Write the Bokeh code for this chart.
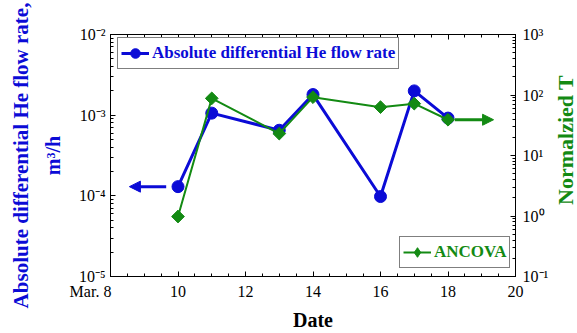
import numpy as np
from bokeh.plotting import figure
from bokeh.layouts import row
from bokeh.models import (LogAxis, LinearAxis, Range1d, LogScale, FixedTicker, LogTicker,
                          CustomJSTickFormatter, Legend, LegendItem, Arrow, NormalHead, Label)
from bokeh.embed import file_html
from bokeh.resources import INLINE

# ---- data ----
dates = [10, 11, 13, 14, 16, 17, 18]
he_flow = [1.3e-4, 1.06e-3, 6.5e-4, 1.8e-3, 9.8e-5, 2.0e-3, 9.2e-4]
ancova_dates = [10, 11, 13, 14, 16, 17, 18]
ancova_t = [0.98, 88, 23, 92, 63, 72, 39]
x_ticks = [8, 10, 12, 14, 16, 18, 20]
x_tick_labels = ["Mar. 8", "10", "12", "14", "16", "18", "20"]

FONT = "Liberation Serif"
BLUE = "#0B0BD6"
GREEN = "#138A13"

p = figure(width=551, height=333, x_range=Range1d(8, 20), y_range=Range1d(1e-5, 1e-2),
           y_axis_type="log", output_backend="svg", toolbar_location=None,
           min_border_left=110, min_border_right=36, min_border_top=34, min_border_bottom=57)
p.xgrid.visible = False
p.ygrid.visible = False
p.outline_line_color = "black"
p.outline_line_width = 1
p.background_fill_color = "white"
p.border_fill_color = "white"

sup_js = """
const e = Math.round(Math.log10(tick));
const m = {'-':'\u207b','0':'\u2070','1':'\u00b9','2':'\u00b2','3':'\u00b3','4':'\u2074','5':'\u2075'};
return '10' + String(e).split('').map(c => m[c]).join('');
"""

def style_axis(ax):
    ax.major_tick_in = 5
    ax.major_tick_out = 0
    ax.minor_tick_in = 3
    ax.minor_tick_out = 0
    ax.axis_line_color = "black"
    ax.major_tick_line_color = "black"
    ax.minor_tick_line_color = "black"
    ax.major_label_text_font = FONT
    ax.major_label_text_font_size = "16px"
    ax.major_label_text_color = "black"
    ax.axis_label_text_font = FONT
    ax.axis_label_text_font_style = "bold"
    ax.axis_label_text_font_size = "20px"

minor_x = list(np.arange(x_ticks[0], x_ticks[-1] + 0.01, 0.5))

# bottom axis; the first label ends at its tick in the reference, hence the padding
labels = list(x_tick_labels)
labels[0] = labels[0] + "\u00a0" * 10
xa = p.xaxis[0]
xa.ticker = FixedTicker(ticks=x_ticks, minor_ticks=minor_x)
xa.major_label_overrides = dict(zip(x_ticks, labels))
style_axis(xa)
xa.axis_label = "Date"
xa.axis_label_text_color = "black"
xa.major_label_standoff = 6
xa.axis_label_standoff = 6

# top axis: inward ticks only
top = LinearAxis(ticker=FixedTicker(ticks=x_ticks, minor_ticks=minor_x),
                 formatter=CustomJSTickFormatter(code="return ''"))
style_axis(top)
top.major_label_standoff = 0
p.add_layout(top, "above")

# left axis (second line of its title) + an outer, tick-less axis carrying the first line
ya = p.yaxis[0]
ya.ticker = LogTicker(num_minor_ticks=10)
ya.formatter = CustomJSTickFormatter(code=sup_js)
style_axis(ya)
ya.axis_label = "m\u00b3/h"
ya.axis_label_text_color = BLUE
ya.major_label_standoff = 5
ya.axis_label_standoff = 12

ya2 = LogAxis(ticker=FixedTicker(ticks=[]))
style_axis(ya2)
ya2.axis_line_color = None
ya2.major_label_standoff = 0
ya2.axis_label = "Absolute differential He flow rate,"
ya2.axis_label_text_color = BLUE
ya2.axis_label_standoff = 6
ya2.axis_label_text_font_size = "21px"
p.add_layout(ya2, "left")

# right axis (ticks only; its title is drawn in the narrow strip beside, reading bottom-to-top)
p.extra_y_ranges = {"t": Range1d(0.1, 1000)}
p.extra_y_scales = {"t": LogScale()}
ra = LogAxis(y_range_name="t", ticker=LogTicker(num_minor_ticks=10),
             formatter=CustomJSTickFormatter(code=sup_js))
style_axis(ra)
ra.major_label_standoff = 7
p.add_layout(ra, "right")

# ---- glyphs ----
bl = p.line(dates, he_flow, line_color=BLUE, line_width=3)
bs = p.scatter(dates, he_flow, marker="circle", size=12, fill_color=BLUE, line_color=BLUE)
gl = p.line(ancova_dates, ancova_t, y_range_name="t", line_color=GREEN, line_width=2)
gs = p.scatter(ancova_dates, ancova_t, y_range_name="t", marker="square", angle=np.pi / 4,
               size=9, fill_color=GREEN, line_color=GREEN)
# same points as a (hidden) diamond renderer, used only for the legend swatch
gs_leg = p.scatter(ancova_dates, ancova_t, y_range_name="t", marker="diamond", size=15,
                   fill_color=GREEN, line_color=GREEN, visible=False)

# ---- arrows pointing to the axes ----
p.add_layout(Arrow(x_start=9.65, y_start=he_flow[0], x_end=8.56, y_end=he_flow[0],
                   line_color=BLUE, line_width=3,
                   end=NormalHead(size=11, fill_color=BLUE, line_color=BLUE)))
p.add_layout(Arrow(x_start=18.2, y_start=ancova_t[-1], x_end=19.35, y_end=ancova_t[-1],
                   y_range_name="t", line_color=GREEN, line_width=3,
                   end=NormalHead(size=11, fill_color=GREEN, line_color=GREEN)))

# ---- legends ----
def make_legend(items, color, loc):
    lg = Legend(items=items, location=loc)
    lg.label_text_font = FONT
    lg.label_text_font_style = "bold"
    lg.label_text_font_size = "17px"
    lg.label_text_color = color
    lg.border_line_color = "black"
    lg.border_line_width = 1.5
    lg.background_fill_color = "white"
    lg.background_fill_alpha = 1
    lg.padding = 3
    lg.margin = 0
    lg.glyph_width = 28
    lg.glyph_height = 24
    lg.label_standoff = 3
    lg.label_height = 19
    lg.click_policy = "none"
    return lg

leg1 = make_legend([LegendItem(label="Absolute differential He flow rate", renderers=[bl, bs])],
                   BLUE, (7, 207))
leg2 = make_legend([LegendItem(label="ANCOVA", renderers=[gl, gs_leg])], GREEN, (289, 8))
p.add_layout(leg1, "center")
p.add_layout(leg2, "center")

# ---- right-hand title strip ----
q = figure(width=26, height=333, x_range=Range1d(0, 26), y_range=Range1d(0, 333),
           output_backend="svg", toolbar_location=None, x_axis_location=None,
           y_axis_location=None, min_border=0)
q.grid.visible = False
q.outline_line_color = None
q.background_fill_color = "white"
q.border_fill_color = "white"
q.add_layout(Label(x=13.5, y=188, text="Normalzied T", angle=np.pi / 2, text_align="center",
                   text_baseline="middle", text_font=FONT, text_font_style="bold",
                   text_font_size="22px", text_color=GREEN))

layout = row(p, q, spacing=0)
open("out.html", "w").write(file_html(layout, INLINE))
